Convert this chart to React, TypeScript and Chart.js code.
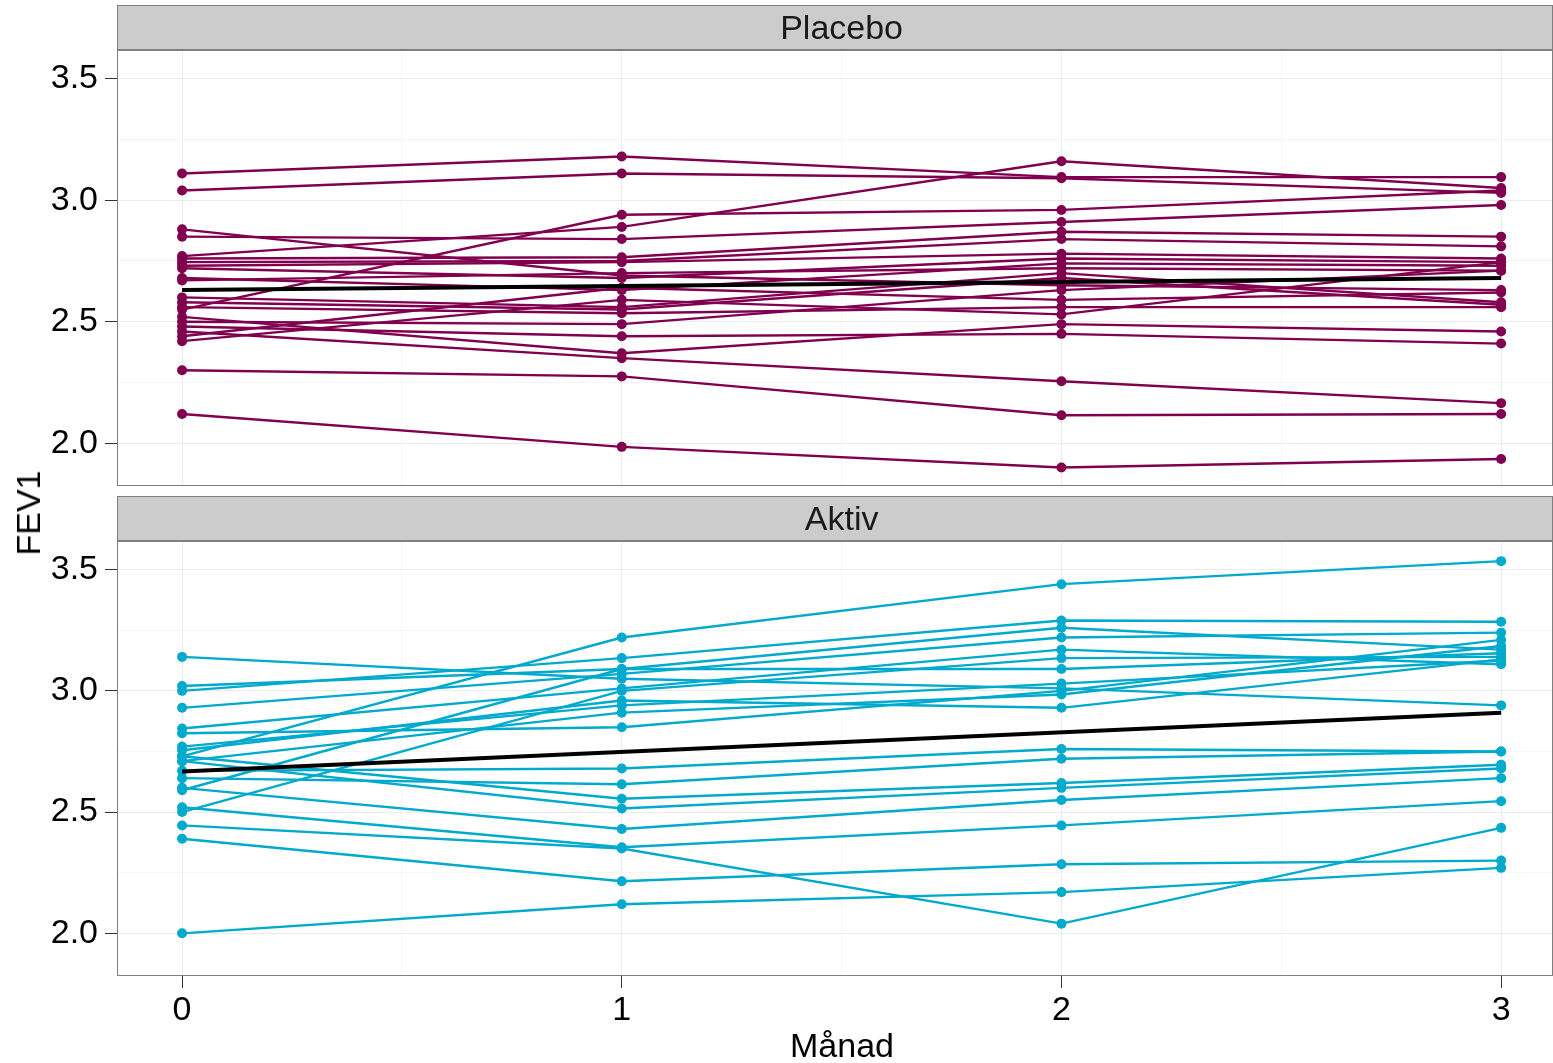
import React, { useEffect, useRef } from "react";
import { Chart, registerables } from "chart.js";

Chart.register(...registerables);

// ---------- data ----------
const months = [0, 1, 2, 3];
const xAxisTitle = "Månad";
const yAxisTitle = "FEV1";
const panelTitles = ["Placebo", "Aktiv"];

// FEV1 per subject at month 0,1,2,3 (Placebo)
const placeboFev1 = [
  [3.11, 3.18, 3.095, 3.095],
  [3.04, 3.11, 3.09, 3.03],
  [2.55, 2.94, 2.96, 3.04],
  [2.77, 2.89, 3.16, 3.05],
  [2.85, 2.84, 2.91, 2.98],
  [2.88, 2.69, 2.65, 2.63],
  [2.76, 2.765, 2.87, 2.85],
  [2.745, 2.75, 2.84, 2.81],
  [2.73, 2.745, 2.78, 2.76],
  [2.72, 2.68, 2.76, 2.745],
  [2.68, 2.63, 2.74, 2.73],
  [2.67, 2.70, 2.72, 2.71],
  [2.60, 2.56, 2.70, 2.58],
  [2.58, 2.55, 2.68, 2.57],
  [2.56, 2.535, 2.56, 2.56],
  [2.50, 2.49, 2.63, 2.71],
  [2.48, 2.44, 2.45, 2.41],
  [2.52, 2.37, 2.49, 2.46],
  [2.46, 2.35, 2.255, 2.165],
  [2.44, 2.64, 2.59, 2.62],
  [2.42, 2.59, 2.53, 2.745],
  [2.30, 2.275, 2.115, 2.12],
  [2.12, 1.985, 1.90, 1.935],
];

// FEV1 per subject at month 0,1,2,3 (Aktiv)
const aktivFev1 = [
  [2.73, 3.22, 3.44, 3.535],
  [3.14, 3.05, 3.01, 2.94],
  [3.02, 3.09, 3.26, 3.17],
  [3.0, 3.135, 3.29, 3.285],
  [2.93, 3.07, 3.22, 3.24],
  [2.845, 3.01, 3.17, 3.11],
  [2.825, 2.85, 3.0, 3.21],
  [2.77, 2.94, 3.03, 3.125],
  [2.5, 3.0, 3.135, 3.14],
  [2.59, 3.09, 3.09, 3.155],
  [2.71, 2.91, 2.985, 3.185],
  [2.67, 2.68, 2.76, 2.75],
  [2.64, 2.615, 2.72, 2.75],
  [2.755, 2.96, 2.93, 3.13],
  [2.73, 2.555, 2.62, 2.695],
  [2.71, 2.515, 2.6, 2.68],
  [2.6, 2.43, 2.55, 2.64],
  [2.52, 2.355, 2.445, 2.545],
  [2.445, 2.35, 2.04, 2.435],
  [2.39, 2.215, 2.285, 2.3],
  [2.0, 2.12, 2.17, 2.27],
];

// linear trend (start at month 0, end at month 3)
const trendMonths = [0, 3];
const placeboTrend = [2.63, 2.68];
const aktivTrend = [2.667, 2.91];

const placeboColor = "#80004F";
const aktivColor = "#00AACC";

// ---------- layout ----------
const FONT = "'Liberation Sans', Arial, Helvetica, sans-serif";
const W = 1553;
const Y_MIN = 1.824;
const Y_MAX = 3.618;
const X_MIN = -0.148;
const X_MAX = 3.118;

const isMajor = (v: number, step: number) =>
  Math.abs(v / step - Math.round(v / step)) < 1e-6;

function makeFacetPlugin(title: string) {
  return {
    id: "facetStrip" + title,
    afterDraw(chart: any) {
      const { ctx, chartArea } = chart;
      const { left, right, top, bottom } = chartArea;
      ctx.save();
      // panel border
      ctx.strokeStyle = "#7F7F7F";
      ctx.lineWidth = 1;
      ctx.strokeRect(left + 0.5, top + 0.5, right - left - 1, bottom - top - 1);
      // strip
      const sh = 45;
      ctx.fillStyle = "#CCCCCC";
      ctx.fillRect(left, top - sh, right - left, sh);
      ctx.strokeRect(left + 0.5, top - sh + 0.5, right - left - 1, sh - 1);
      ctx.fillStyle = "#1A1A1A";
      ctx.font = `34px ${FONT}`;
      ctx.textAlign = "center";
      ctx.textBaseline = "middle";
      const cx = chart.scales.x.getPixelForValue(1.5);
      ctx.fillText(title, cx, top - sh / 2 + 2);
      ctx.restore();
    },
  };
}

type PanelProps = {
  top: number;
  height: number;
  padBottom: number;
  showX: boolean;
  title: string;
  series: number[][];
  color: string;
  trend: number[];
};

function FacetPanel(p: PanelProps) {
  const ref = useRef<HTMLCanvasElement | null>(null);
  useEffect(() => {
    const canvas = ref.current;
    if (!canvas) return;
    const datasets: any[] = [
      {
        label: "trend",
        data: trendMonths.map((m, i) => ({ x: m, y: p.trend[i] })),
        borderColor: "#000000",
        borderWidth: 4,
        pointRadius: 0,
        fill: false,
        order: 0,
      },
      ...p.series.map((row, k) => ({
        label: p.title + " " + (k + 1),
        data: months.map((m, i) => ({ x: m, y: row[i] })),
        borderColor: p.color,
        backgroundColor: p.color,
        pointBackgroundColor: p.color,
        pointBorderWidth: 0,
        pointRadius: 5,
        borderWidth: 2.4,
        fill: false,
        order: 1,
      })),
    ];
    const chart = new Chart(canvas, {
      type: "line",
      data: { datasets },
      plugins: [makeFacetPlugin(p.title)],
      options: {
        responsive: false,
        maintainAspectRatio: false,
        animation: false,
        layout: {
          autoPadding: false,
          padding: { top: 50, bottom: p.padBottom, left: 0, right: 0 },
        },
        plugins: { legend: { display: false }, tooltip: { enabled: false } },
        scales: {
          x: {
            type: "linear",
            min: X_MIN,
            max: X_MAX,
            afterFit: (s: any) => {
              s.height = p.showX ? 87 : 0;
            },
            border: { display: false },
            grid: {
              drawTicks: p.showX,
              tickLength: 12,
              lineWidth: 1,
              color: (c: any) => (isMajor(c.tick.value, 1) ? "#EBEBEB" : "#F5F5F5"),
              tickColor: (c: any) => (isMajor(c.tick.value, 1) ? "#333333" : "rgba(0,0,0,0)"),
            },
            ticks: {
              display: p.showX,
              stepSize: 0.5,
              includeBounds: false,
              autoSkip: false,
              maxRotation: 0,
              padding: 2,
              color: "#000000",
              font: { family: FONT, size: 34 },
              callback: (v: any) => (isMajor(Number(v), 1) ? String(Math.round(Number(v))) : ""),
            },
          },
          y: {
            type: "linear",
            min: Y_MIN,
            max: Y_MAX,
            afterFit: (s: any) => {
              s.width = 117;
            },
            border: { display: false },
            grid: {
              tickLength: 12,
              lineWidth: 1,
              color: (c: any) => (isMajor(c.tick.value, 0.5) ? "#EBEBEB" : "#F5F5F5"),
              tickColor: (c: any) => (isMajor(c.tick.value, 0.5) ? "#333333" : "rgba(0,0,0,0)"),
            },
            ticks: {
              stepSize: 0.25,
              includeBounds: false,
              autoSkip: false,
              padding: 7,
              color: "#000000",
              font: { family: FONT, size: 34 },
              callback: (v: any) => (isMajor(Number(v), 0.5) ? Number(v).toFixed(1) : ""),
            },
          },
        },
      } as any,
    });
    return () => chart.destroy();
  }, []);
  return (
    <canvas
      ref={ref}
      width={W}
      height={p.height}
      style={{ position: "absolute", left: 0, top: p.top, width: W, height: p.height, display: "block" }}
    />
  );
}

export default function App() {
  return (
    <div
      style={{
        position: "absolute",
        left: 0,
        top: 0,
        width: W,
        height: 1063,
        background: "#FFFFFF",
        overflow: "hidden",
        fontFamily: FONT,
      }}
    >
      <FacetPanel
        top={0}
        height={516}
        padBottom={30}
        showX={false}
        title={panelTitles[0]}
        series={placeboFev1}
        color={placeboColor}
        trend={placeboTrend}
      />
      <FacetPanel
        top={491}
        height={572}
        padBottom={0}
        showX={true}
        title={panelTitles[1]}
        series={aktivFev1}
        color={aktivColor}
        trend={aktivTrend}
      />
      <div
        style={{
          position: "absolute",
          left: 28,
          top: 513,
          transform: "translate(-50%, -50%) rotate(-90deg)",
          fontSize: 34,
          lineHeight: "34px",
          color: "#000",
          whiteSpace: "nowrap",
        }}
      >
        {yAxisTitle}
      </div>
      <div
        style={{
          position: "absolute",
          left: 842,
          top: 1028,
          transform: "translateX(-50%)",
          fontSize: 34,
          lineHeight: "34px",
          color: "#000",
          whiteSpace: "nowrap",
        }}
      >
        {xAxisTitle}
      </div>
    </div>
  );
}
